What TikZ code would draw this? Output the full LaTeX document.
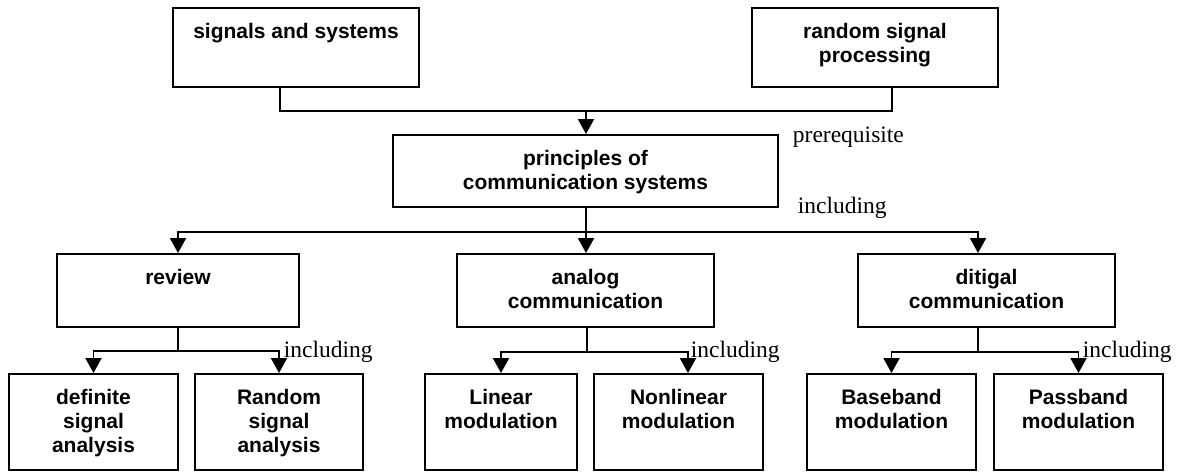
\documentclass[tikz,border=0pt]{standalone}
\usepackage{fontspec}
\setmainfont{Liberation Serif}
\setsansfont{Liberation Sans}
\usetikzlibrary{arrows.meta}

\begin{document}
\begin{tikzpicture}[x=1pt, y=-1pt, line width=1.9pt,
    box/.style 2 args={draw, inner sep=0pt, minimum width=#1, minimum height=#2},
    title/.style={anchor=north, inner sep=0pt, align=center, font=\sffamily\bfseries\fontsize{21}{24}\selectfont},
    note/.style={anchor=base west, inner sep=0pt, font=\fontsize{23.5}{27}\selectfont},
    arr/.style={-{Triangle[width=16pt,length=15pt]}}]

\useasboundingbox (0,0) rectangle (1180,473);

\node[box={246pt}{79pt}] (sig) at (296,47.5) {};
\node[box={246pt}{79pt}] (rsp) at (875,47.5) {};
\node[box={385pt}{72pt}] (prin) at (585.5,171) {};
\node[box={242pt}{73pt}] (rev) at (178,290.5) {};
\node[box={257pt}{73pt}] (ana) at (585.5,290.5) {};
\node[box={257pt}{73pt}] (dig) at (986.5,290.5) {};
\node[box={169pt}{96pt}] (defs) at (93.5,422) {};
\node[box={168pt}{96pt}] (rnds) at (279,422) {};
\node[box={152pt}{96pt}] (lin) at (501,422) {};
\node[box={169pt}{96pt}] (nonlin) at (678.5,422) {};
\node[box={169pt}{96pt}] (base) at (891.5,422) {};
\node[box={169pt}{96pt}] (pass) at (1078.5,422) {};

\node[title] (sigT) at ([yshift=-14pt]sig.north) {\strut signals and systems};
\node[title] (rspT) at ([yshift=-14pt]rsp.north) {\strut random signal\\processing};
\node[title] (prinT) at ([yshift=-14pt]prin.north) {\strut principles of\\communication systems};
\node[title] (revT) at ([yshift=-14pt]rev.north) {\strut review};
\node[title] (anaT) at ([yshift=-14pt]ana.north) {\strut analog\\communication};
\node[title] (digT) at ([yshift=-14pt]dig.north) {\strut ditigal\\communication};
\node[title] (defsT) at ([yshift=-14pt]defs.north) {\strut definite\\signal\\analysis};
\node[title] (rndsT) at ([yshift=-14pt]rnds.north) {\strut Random\\signal\\analysis};
\node[title] (linT) at ([yshift=-14pt]lin.north) {\strut Linear\\modulation};
\node[title] (nonlinT) at ([yshift=-14pt]nonlin.north) {\strut Nonlinear\\modulation};
\node[title] (baseT) at ([yshift=-14pt]base.north) {\strut Baseband\\modulation};
\node[title] (passT) at ([yshift=-14pt]pass.north) {\strut Passband\\modulation};

\node[note] (pre) at (792,143) {prerequisite};
\node[note] (inc1) at (797,214) {including};
\node[note] (inc2) at (283,357) {including};
\node[note] (inc3) at (690,357) {including};
\node[note] (inc4) at (1082,357) {including};

\coordinate (j0) at (586,111);
\draw ([xshift=-16pt]sig.south) |- (j0) -| ([xshift=17pt]rsp.south);
\draw[arr] (j0) -- (j0 |- prin.north);

\coordinate (j1) at (586,232);
\draw (j1 |- prin.south) -- (j1);
\draw[arr] (j1) -| (rev);
\draw[arr] (j1) -- (j1 |- ana.north);
\draw[arr] (j1) -| ([xshift=-8.5pt]dig.north);

\coordinate (j2) at ([yshift=-23pt]rev.south);
\draw (rev.south) -- (j2);
\draw[arr] (j2) -| (defs);
\draw[arr] (j2) -| (rnds);

\coordinate (j3) at ([xshift=1.5pt,yshift=-24pt]ana.south);
\draw (j3 |- ana.south) -- (j3);
\draw[arr] (j3) -| (lin);
\draw[arr] (j3) -| ([xshift=9.5pt]nonlin.north);

\coordinate (j4) at ([xshift=-8.5pt,yshift=-24pt]dig.south);
\draw (j4 |- dig.south) -- (j4);
\draw[arr] (j4) -| (base);
\draw[arr] (j4) -| (pass);
\end{tikzpicture}
\end{document}
